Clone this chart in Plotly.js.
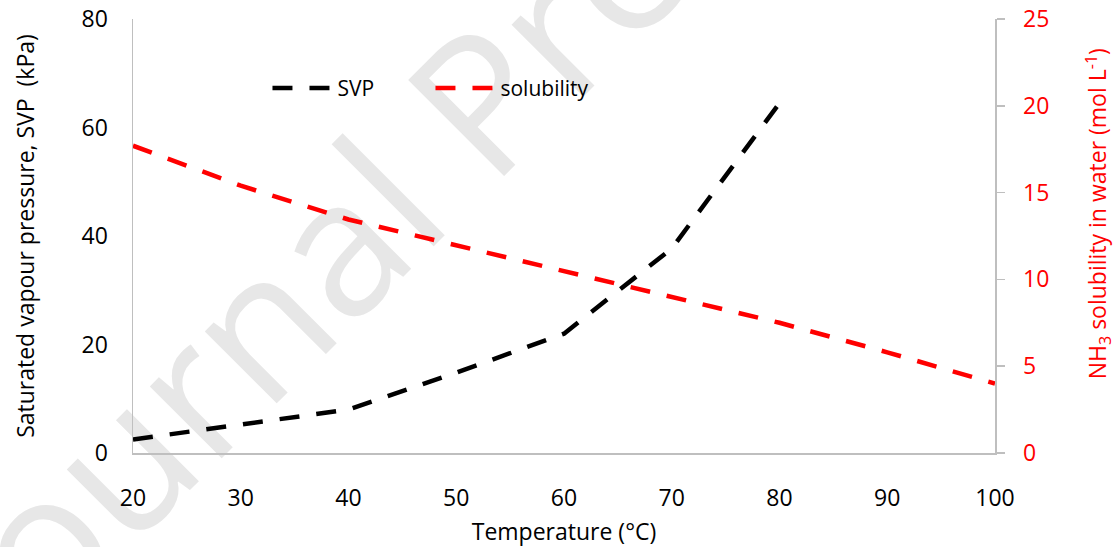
<!DOCTYPE html>
<html>
<head>
<meta charset="utf-8">
<script src="https://cdn.plot.ly/plotly-3.0.1.min.js"></script>
<style>
  html, body { margin:0; padding:0; background:#ffffff; }
  #wrap { position:relative; width:1115px; height:547px; overflow:hidden; }
  #wm { position:absolute; left:0; top:0; z-index:0; }
  #chart { position:absolute; left:0; top:0; width:1115px; height:547px; z-index:1; }
</style>
</head>
<body>
<div id="wrap">
  <svg id="wm" width="1115" height="547">
    <text x="11" y="669" transform="rotate(-45 11 669)" font-family="Open Sans" font-size="190" fill="#e7e7e7">Journal Pre-proof</text>
  </svg>
  <div id="chart"></div>
</div>
<script>
// Data
const temperatureSVP = [20, 30, 40, 50, 60, 70, 80];
const svpValues = [2.5, 5.3, 8.0, 14.8, 22.0, 37.7, 64.5];           // kPa
const temperatureSol = [20, 30, 40, 50, 60, 70, 80, 90, 100];
const solubilityValues = [17.7, 15.4, 13.45, 11.95, 10.45, 9.0, 7.5, 5.8, 4.0]; // mol/L
const xTicks = [20, 30, 40, 50, 60, 70, 80, 90, 100];
const leftTicks = [0, 20, 40, 60, 80];
const rightTicks = [0, 5, 10, 15, 20, 25];

const FONT = 'Open Sans, sans-serif';
const AXIS_GRAY = '#bfbfbf';

const traces = [
  {
    x: temperatureSVP, y: svpValues, name: 'SVP', type: 'scatter', mode: 'lines',
    line: { color: '#000000', width: 4.5, dash: '20px,17px' }, yaxis: 'y'
  },
  {
    x: temperatureSol, y: solubilityValues, name: 'solubility', type: 'scatter', mode: 'lines',
    line: { color: '#ff0000', width: 4.5, dash: '20px,17px' }, yaxis: 'y2'
  }
];

const layout = {
  width: 1115, height: 547,
  margin: { l: 133, r: 120, t: 19, b: 94 },
  paper_bgcolor: 'rgba(0,0,0,0)',
  plot_bgcolor: 'rgba(0,0,0,0)',
  font: { family: FONT, size: 23, color: '#000' },
  showlegend: true,
  legend: {
    orientation: 'h', x: 0.156, y: 0.84, xanchor: 'left', yanchor: 'middle',
    font: { family: FONT, size: 21, color: '#000' },
    bgcolor: 'rgba(0,0,0,0)', entrywidth: 88, entrywidthmode: 'pixels', itemwidth: 60
  },
  xaxis: {
    range: [20, 100], tickvals: xTicks, showgrid: false, zeroline: false,
    showline: true, linecolor: AXIS_GRAY, linewidth: 1.5, ticks: '',
    ticklabelstandoff: 24,
    tickfont: { family: FONT, size: 23, color: '#000' },
    title: { text: 'Temperature (°C)', font: { family: FONT, size: 23, color: '#000' }, standoff: 16 }
  },
  yaxis: {
    range: [0, 80], tickvals: leftTicks, showgrid: false, zeroline: false,
    showline: true, linecolor: AXIS_GRAY, linewidth: 1.5, ticks: '',
    ticklabelstandoff: 19,
    tickfont: { family: FONT, size: 23, color: '#000' },
    title: { text: 'Saturated vapour pressure, SVP&nbsp; (kPa)', font: { family: FONT, size: 23, color: '#000' }, standoff: 40 }
  },
  yaxis2: {
    range: [0, 25], tickvals: rightTicks, overlaying: 'y', side: 'right',
    showgrid: false, zeroline: false,
    showline: true, linecolor: AXIS_GRAY, linewidth: 1.5,
    ticks: 'outside', ticklen: 8, tickwidth: 1.5, tickcolor: AXIS_GRAY,
    ticklabelstandoff: 14,
    tickfont: { family: FONT, size: 23, color: '#ff0000' }
  },
  annotations: [
    {
      text: 'NH<sub>3</sub> solubility in water (mol L<sup>-1</sup>)',
      xref: 'paper', yref: 'paper', x: (1098 - 133) / 862, y: (452.7 - 214) / 434,
      xanchor: 'center', yanchor: 'middle', textangle: -90, showarrow: false,
      font: { family: FONT, size: 23, color: '#ff0000' }
    }
  ]
};

Plotly.newPlot('chart', traces, layout, { displayModeBar: false, staticPlot: true });
</script>
</body>
</html>
